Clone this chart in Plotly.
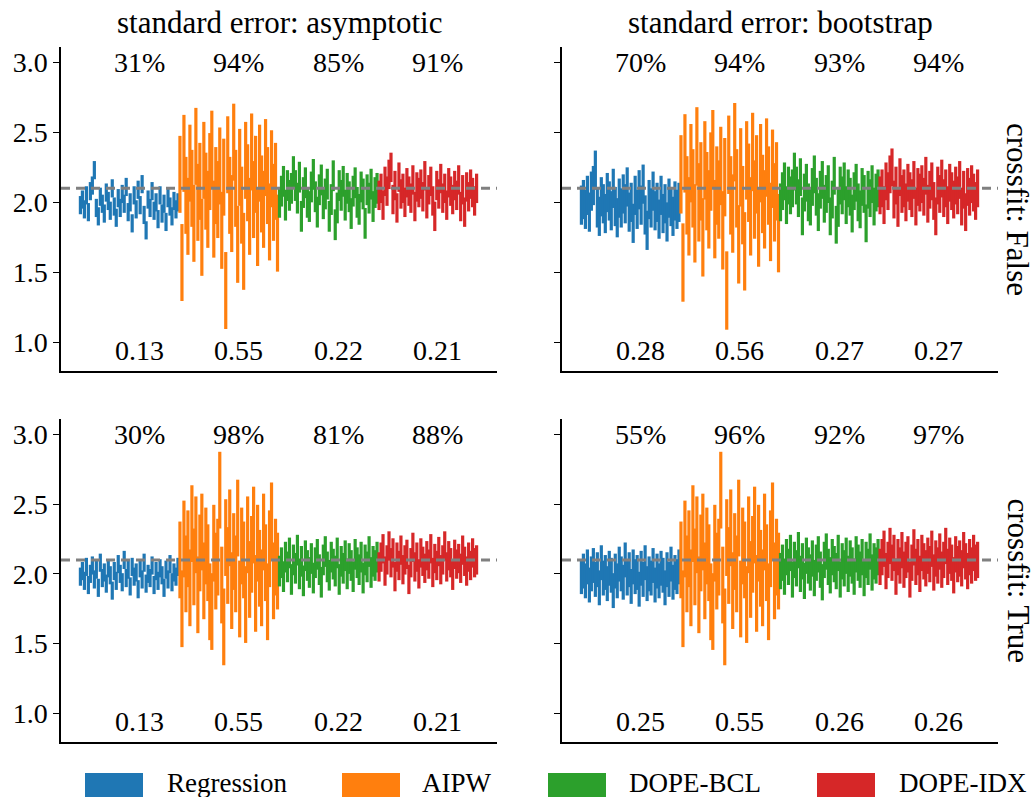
import plotly.graph_objects as go

methods = ["Regression", "AIPW", "DOPE-BCL", "DOPE-IDX"]
colors = ["#1f77b4", "#ff7f0e", "#2ca02c", "#d62728"]
col_titles = ["asymptotic", "bootstrap"]
row_titles = ["False", "True"]
true_value = 2.1

# point estimates (50 simulations shown per method), crossfit False
est_false = {
    "Regression": [1.98, 2.02, 1.95, 2.05, 1.93, 2.08, 2.12, 2.23, 1.96, 1.90, 2.04, 1.99, 1.92, 2.07, 2.01, 1.94, 2.10, 1.97, 1.89, 2.03, 1.96, 2.06, 1.99, 2.11, 1.93, 2.00, 1.85, 2.05, 1.95, 2.09, 1.98, 2.13, 1.91, 1.80, 2.02, 1.96, 2.08, 1.94, 2.00, 1.88, 2.05, 1.92, 1.99, 1.86, 2.03, 1.97, 1.90, 2.01, 1.95, 2.00],
    "AIPW": [2.20, 1.57, 2.35, 2.05, 1.90, 2.28, 2.10, 1.85, 2.40, 2.00, 2.15, 1.75, 2.30, 2.08, 1.95, 2.22, 2.38, 1.88, 2.12, 2.02, 2.26, 1.80, 2.18, 1.37, 2.34, 2.05, 1.92, 2.43, 2.10, 1.70, 2.25, 1.98, 1.65, 2.30, 2.14, 1.90, 2.36, 2.02, 2.20, 1.82, 2.28, 2.06, 1.95, 2.32, 2.12, 1.86, 2.24, 2.00, 2.15, 1.78],
    "DOPE-BCL": [2.00, 2.08, 2.15, 1.98, 2.12, 2.05, 2.10, 2.22, 2.12, 2.03, 2.18, 1.90, 2.07, 2.14, 2.00, 1.97, 2.11, 2.20, 2.04, 1.93, 2.09, 2.16, 1.99, 2.06, 2.13, 1.90, 2.02, 2.19, 1.84, 1.96, 2.12, 2.05, 2.15, 1.98, 2.10, 2.04, 1.92, 2.08, 2.14, 2.00, 1.95, 2.11, 2.06, 1.85, 2.09, 2.03, 2.13, 1.97, 2.07, 2.10],
    "DOPE-IDX": [2.05, 2.10, 1.98, 2.15, 2.08, 2.20, 2.25, 2.02, 2.12, 1.96, 2.18, 2.06, 2.10, 2.00, 2.14, 2.08, 2.03, 2.16, 1.97, 2.11, 2.07, 2.13, 2.04, 2.19, 1.99, 2.09, 2.15, 2.01, 1.90, 2.12, 2.06, 2.17, 2.03, 2.10, 1.98, 2.14, 2.08, 2.02, 2.12, 2.05, 2.16, 1.97, 2.09, 1.93, 2.11, 2.04, 2.13, 2.07, 2.01, 2.10],
}
# point estimates, crossfit True
est_true = {
    "Regression": [1.98, 2.02, 1.95, 2.05, 1.92, 2.00, 2.06, 1.96, 2.03, 1.90, 2.08, 1.97, 2.01, 1.93, 2.04, 1.99, 1.88, 2.02, 1.95, 2.07, 2.00, 1.94, 2.10, 1.97, 2.03, 1.91, 2.05, 1.98, 2.01, 1.89, 2.04, 1.96, 2.08, 1.93, 2.00, 1.97, 2.06, 1.92, 2.02, 1.95, 2.04, 1.99, 1.90, 2.03, 1.96, 2.07, 1.94, 2.01, 1.98, 2.05],
    "AIPW": [2.10, 1.75, 2.25, 2.00, 2.18, 1.90, 2.36, 2.05, 2.28, 1.85, 2.15, 2.30, 1.95, 2.20, 2.08, 1.80, 1.73, 2.22, 2.02, 2.12, 2.60, 1.92, 1.62, 2.26, 2.06, 2.33, 1.88, 2.16, 2.00, 2.40, 1.82, 2.20, 2.10, 1.78, 2.28, 1.96, 2.14, 2.35, 1.86, 2.22, 2.04, 1.90, 2.30, 2.08, 1.80, 2.18, 2.38, 1.95, 2.12, 2.02],
    "DOPE-BCL": [2.02, 2.08, 1.98, 2.12, 2.05, 2.15, 1.96, 2.10, 2.04, 2.17, 2.00, 2.09, 1.95, 2.13, 2.06, 2.01, 2.11, 1.97, 2.08, 2.14, 2.03, 1.94, 2.10, 2.16, 2.05, 1.99, 2.12, 2.07, 2.02, 2.15, 1.96, 2.09, 2.04, 2.13, 2.00, 2.11, 2.06, 1.98, 2.14, 2.08, 2.03, 2.12, 1.97, 2.10, 2.05, 2.16, 2.01, 2.09, 2.06, 2.12],
    "DOPE-IDX": [2.05, 2.12, 2.18, 2.02, 2.10, 2.20, 2.08, 2.15, 1.98, 2.12, 2.06, 2.17, 2.03, 2.10, 2.14, 1.96, 2.08, 2.19, 2.05, 2.12, 2.00, 2.15, 2.09, 2.04, 2.13, 2.07, 2.18, 2.01, 2.11, 2.06, 2.16, 2.03, 2.10, 2.20, 2.05, 2.13, 2.08, 1.99, 2.14, 2.07, 2.11, 2.04, 2.17, 2.09, 2.02, 2.12, 2.06, 2.15, 2.08, 2.10],
}

# average interval widths (printed at bottom) per panel [row][col]
widths = [
    [[0.13, 0.55, 0.22, 0.21], [0.28, 0.56, 0.27, 0.27]],
    [[0.13, 0.55, 0.22, 0.21], [0.25, 0.55, 0.26, 0.26]],
]
# coverage (printed at top) per panel [row][col]
coverage = [
    [[31, 94, 85, 91], [70, 94, 93, 94]],
    [[30, 98, 81, 88], [55, 96, 92, 97]],
]

W, H = 1036, 797
FONT = "Liberation Serif"
col_px = [(61, 497), (562, 998)]
row_px = [(47, 371), (419, 742)]
XR = [-19.5, 418.5]
YR = [0.795, 3.11]

fig = go.Figure()
layout = dict(
    width=W, height=H, margin=dict(l=0, r=0, t=0, b=0),
    plot_bgcolor="white", paper_bgcolor="white", showlegend=False,
    font=dict(family=FONT, size=27, color="black"),
)
annotations = []
shapes = []

for r in range(2):
    ests = est_false if r == 0 else est_true
    for c in range(2):
        k = r * 2 + c + 1
        xs = "" if k == 1 else str(k)
        xd = [col_px[c][0] / W, col_px[c][1] / W]
        yd = [1 - row_px[r][1] / H, 1 - row_px[r][0] / H]
        layout["xaxis" + xs] = dict(
            domain=xd, range=XR, anchor="y" + xs, showline=True, linecolor="black",
            linewidth=1.5, ticks="", showticklabels=False, showgrid=False, zeroline=False,
        )
        layout["yaxis" + xs] = dict(
            domain=yd, range=YR, anchor="x" + xs, showline=True, linecolor="black",
            linewidth=1.5, ticks="outside", ticklen=6, tickwidth=1.3, tickcolor="black",
            tickvals=[1.0, 1.5, 2.0, 2.5, 3.0], ticktext=["1.0", "1.5", "2.0", "2.5", "3.0"],
            showticklabels=(c == 0), showgrid=False, zeroline=False,
            tickfont=dict(family=FONT, size=28),
        )
        for m, name in enumerate(methods):
            half = widths[r][c][m] / 2
            xx, yy = [], []
            for i, e in enumerate(ests[name]):
                x = m * 100 + 2 * i
                xx += [x, x, None]
                yy += [e - half, e + half, None]
            fig.add_trace(go.Scatter(
                x=xx, y=yy, mode="lines", line=dict(color=colors[m], width=3.2),
                xaxis="x" + xs, yaxis="y" + xs, hoverinfo="skip",
            ))
            annotations.append(dict(
                x=59 + 100 * m, y=3.0, xref="x" + xs, yref="y" + xs,
                text=f"{coverage[r][c][m]}%", showarrow=False,
                xanchor="center", yanchor="middle", font=dict(size=28),
            ))
            annotations.append(dict(
                x=59 + 100 * m, y=0.94, xref="x" + xs, yref="y" + xs,
                text=f"{widths[r][c][m]:.2f}", showarrow=False,
                xanchor="center", yanchor="middle", font=dict(size=28),
            ))
        shapes.append(dict(
            type="line", xref="x" + xs + " domain", yref="y" + xs,
            x0=0, x1=1, y0=true_value, y1=true_value,
            line=dict(color="#808080", width=3, dash="9px,6px"), layer="above",
        ))

# column titles
for c in range(2):
    annotations.append(dict(
        x=(col_px[c][0] + col_px[c][1]) / 2 / W, y=1 - 22 / H, xref="paper", yref="paper",
        text=f"standard error: {col_titles[c]}", showarrow=False,
        xanchor="center", yanchor="middle", font=dict(size=31),
    ))
# row titles
for r in range(2):
    annotations.append(dict(
        x=1018 / W, y=1 - ((row_px[r][0] + row_px[r][1]) / 2) / H, xref="paper", yref="paper",
        text=f"crossfit: {row_titles[r]}", showarrow=False, textangle=90,
        xanchor="center", yanchor="middle", font=dict(size=31),
    ))

# legend (drawn manually)
leg_patch_x = [85, 342, 548, 817]
leg_text_x = [165, 420, 627, 897]
for m, name in enumerate(methods):
    shapes.append(dict(
        type="rect", xref="paper", yref="paper",
        x0=leg_patch_x[m] / W, x1=(leg_patch_x[m] + 58) / W,
        y0=1 - 802 / H, y1=1 - 773 / H,
        fillcolor=colors[m], line=dict(width=0),
    ))
    annotations.append(dict(
        x=leg_text_x[m] / W, y=1 - 783 / H, xref="paper", yref="paper",
        text=name, showarrow=False, xanchor="left", yanchor="middle",
        font=dict(size=27),
    ))

layout["annotations"] = annotations
layout["shapes"] = shapes
fig.update_layout(**layout)
fig.write_html("out.html")
